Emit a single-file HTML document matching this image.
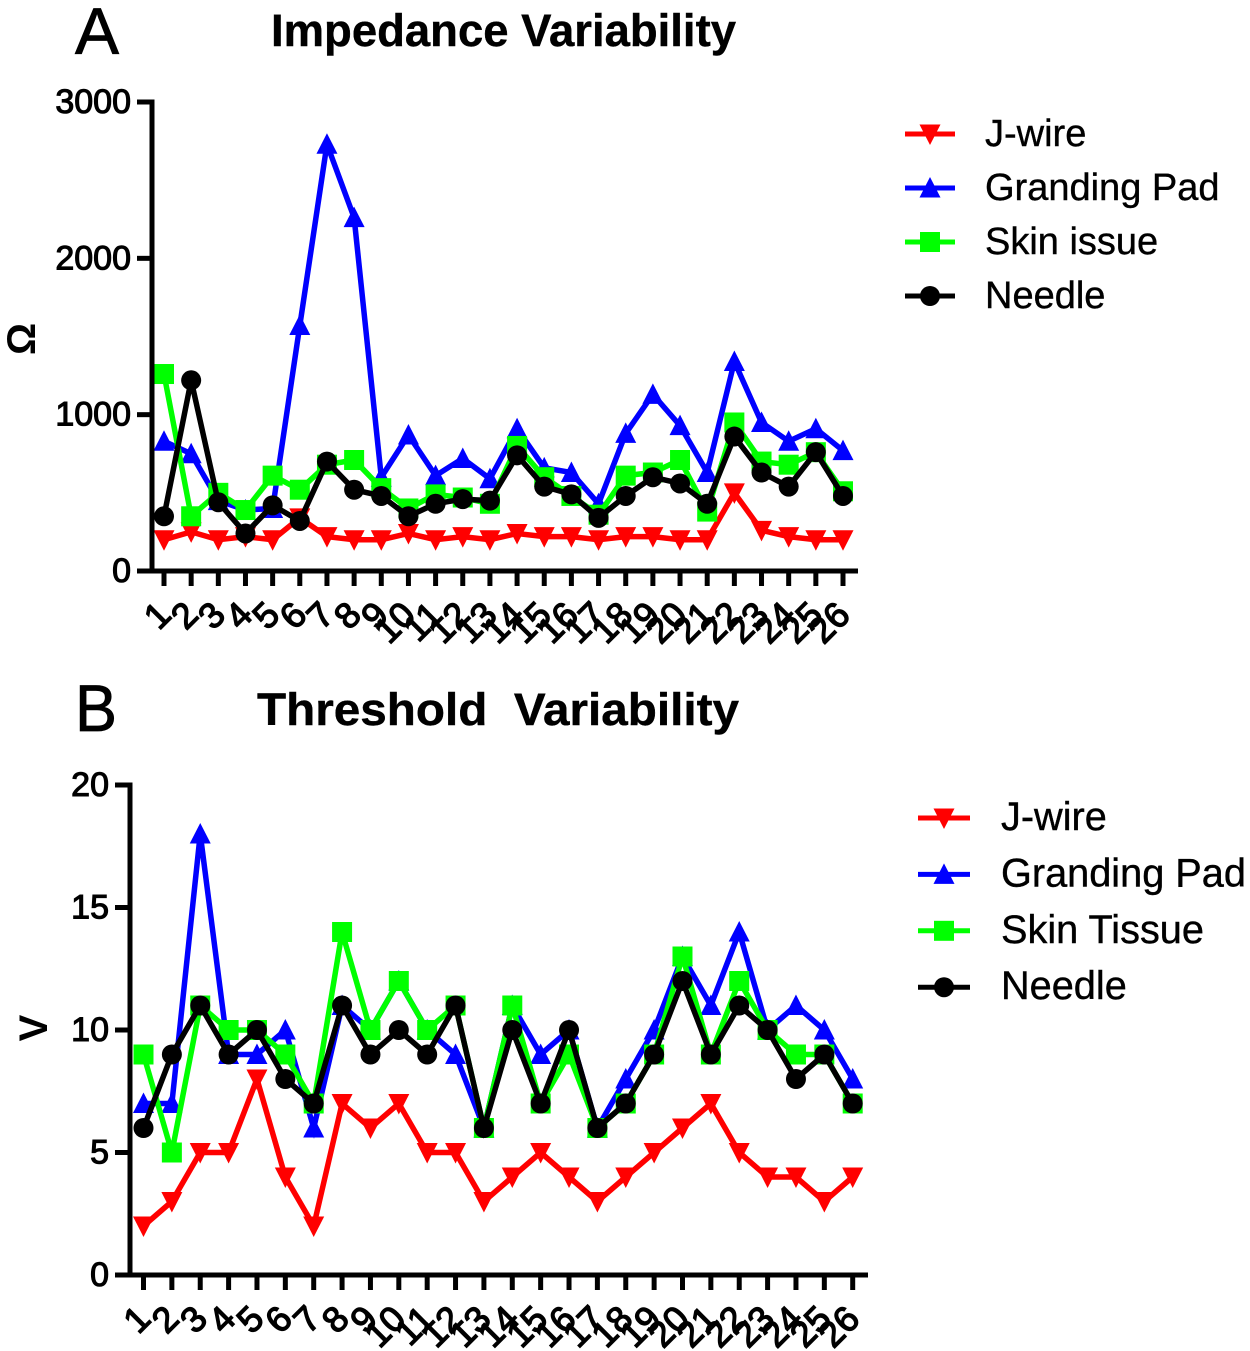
<!DOCTYPE html>
<html lang="en">
<head>
<meta charset="utf-8">
<title>Impedance and Threshold Variability</title>
<style>
html,body{margin:0;padding:0;background:#fff;width:1250px;height:1351px;overflow:hidden}
svg{display:block}
text{font-family:"Liberation Sans",sans-serif;fill:#000}
.panel{font-size:66px;stroke:#000;stroke-width:.8px}
.title{font-size:45px;font-weight:bold;stroke:#000;stroke-width:.4px}
.leg{font-size:38px;stroke:#000;stroke-width:.4px}
.legb{font-size:39.7px;stroke:#000;stroke-width:.4px}
.tick{font-size:34px;stroke:#000;stroke-width:1.1px}
.xtick{font-size:36px;stroke:#000;stroke-width:1.3px}
.axt{font-size:40px;font-weight:bold}
</style>
</head>
<body>
<svg id="figure" xmlns="http://www.w3.org/2000/svg" width="1250" height="1351" viewBox="0 0 1250 1351">
<rect width="1250" height="1351" fill="#fff"/>
<text class="panel" x="75" y="54" textLength="44" lengthAdjust="spacingAndGlyphs">A</text>
<text class="title" x="271" y="46" textLength="465" lengthAdjust="spacingAndGlyphs">Impedance Variability</text>
<text class="axt" transform="translate(35,339) rotate(-90)" text-anchor="middle">Ω</text>
<text class="panel" x="75" y="731" textLength="42" lengthAdjust="spacingAndGlyphs">B</text>
<text class="title" x="257" y="725" textLength="482" lengthAdjust="spacingAndGlyphs" xml:space="preserve">Threshold  Variability</text>
<text class="axt" transform="translate(47,1028) rotate(-90)" text-anchor="middle">V</text>
<g id="chart-a"></g>
<g id="chart-b"></g>
<g id="legend-a"></g>
<g id="legend-b"></g>
</svg>
<script>
const categories = ['1','2','3','4','5','6','7','8','9','10','11','12','13','14','15','16','17','18','19','20','21','22','23','24','25','26'];

const impedanceTicks = [0, 1000, 2000, 3000];
const impedanceJWire = [200,250,200,220,200,340,220,200,200,240,200,220,200,240,220,220,200,220,220,200,200,500,260,220,200,200];
const impedanceGrandingPad = [830,750,450,390,400,1570,2730,2260,600,870,610,720,590,910,660,630,430,880,1130,930,630,1340,950,830,910,770];
const impedanceSkin = [1260,350,500,390,610,520,680,710,530,400,490,470,430,800,600,480,360,610,630,710,380,950,700,680,760,510];
const impedanceNeedle = [350,1220,440,240,420,320,700,520,480,350,430,460,450,740,540,490,340,480,600,560,430,860,630,540,760,480];

const thresholdTicks = [0, 5, 10, 15, 20];
const thresholdJWire = [2,3,5,5,8,4,2,7,6,7,5,5,3,4,5,4,3,4,5,6,7,5,4,4,3,4];
const thresholdGrandingPad = [7,7,18,9,9,10,6,11,10,12,10,9,6,11,9,10,6,8,10,13,11,14,10,11,10,8];
const thresholdSkin = [9,5,11,10,10,9,7,14,10,12,10,11,6,11,7,9,6,7,9,13,9,12,10,9,9,7];
const thresholdNeedle = [6,9,11,9,10,8,7,11,9,10,9,11,6,10,7,10,6,7,9,12,9,11,10,8,9,7];

const legendANames = ['J-wire','Granding Pad','Skin issue','Needle'];
const legendBNames = ['J-wire','Granding Pad','Skin Tissue','Needle'];

const NS = 'http://www.w3.org/2000/svg';
const RED = '#ff0000', BLUE = '#0000ff', GREEN = '#00ff00', BLACK = '#000000';

function make(tag, attrs, parent) {
  const el = document.createElementNS(NS, tag);
  for (const k in attrs) el.setAttribute(k, attrs[k]);
  parent.appendChild(el);
  return el;
}

function drawMarker(kind, cx, cy, color, parent) {
  let el;
  if (kind === 'down') {
    el = make('polygon', {points: (cx-10.5)+','+(cy-9.5)+' '+(cx+10.5)+','+(cy-9.5)+' '+cx+','+(cy+11), fill: color}, parent);
  } else if (kind === 'up') {
    el = make('polygon', {points: (cx-10.5)+','+(cy+9.5)+' '+(cx+10.5)+','+(cy+9.5)+' '+cx+','+(cy-11), fill: color}, parent);
  } else if (kind === 'square') {
    el = make('rect', {x: cx-10, y: cy-10, width: 20, height: 20, fill: color}, parent);
  } else {
    el = make('circle', {cx: cx, cy: cy, r: 10, fill: color}, parent);
  }
  
  
}

function drawChart(parent, cfg, ticks, series) {
  const xPos = i => cfg.x1 + i * (cfg.xN - cfg.x1) / (categories.length - 1);
  const yPos = v => cfg.y0 + (cfg.yTop - cfg.y0) * v / ticks[ticks.length - 1];

  series.forEach(s => {
    const g = make('g', {}, parent);
    
    
    s.values.forEach((v, i) => drawMarker(s.marker, xPos(i), yPos(v), s.color, g));
    const pts = s.values.map((v, i) => xPos(i) + ',' + yPos(v)).join(' ');
    const line = make('polyline', {points: pts, fill: 'none', stroke: s.color, 'stroke-width': 5.5, 'stroke-linejoin': 'miter'}, g);
    
    
  });

  const yAxis = make('line', {x1: cfg.axisX, x2: cfg.axisX, y1: cfg.yTop - 2.5, y2: cfg.y0 + 2.5, stroke: '#000', 'stroke-width': 5}, parent);
  
  
  const xAxis = make('line', {x1: cfg.axisX - 14, x2: cfg.axisEnd, y1: cfg.y0, y2: cfg.y0, stroke: '#000', 'stroke-width': 5}, parent);
  
  

  ticks.forEach(t => {
    const y = yPos(t);
    const tk = make('line', {x1: cfg.axisX - 15, x2: cfg.axisX, y1: y, y2: y, stroke: '#000', 'stroke-width': 5}, parent);
    
    
    const lb = make('text', {x: cfg.axisX - 21, y: y + 11, 'text-anchor': 'end', class: 'tick'}, parent);
    lb.textContent = String(t);
    
    
  });

  categories.forEach((c, i) => {
    const x = xPos(i);
    const tk = make('line', {x1: x, x2: x, y1: cfg.y0, y2: cfg.y0 + 15, stroke: '#000', 'stroke-width': 5}, parent);
    
    
    const ax = x + 9, ay = cfg.y0 + 46;
    const lb = make('text', {x: ax, y: ay, 'text-anchor': 'end', class: 'xtick', transform: 'rotate(-45 ' + ax + ' ' + ay + ')'}, parent);
    lb.textContent = c;
    
    
  });
}

function drawLegend(parent, cfg, names, series) {
  names.forEach((n, i) => {
    const y = cfg.y + i * cfg.gap;
    const g = make('g', {}, parent);
    
    
    make('line', {x1: cfg.x1, x2: cfg.x2, y1: y, y2: y, stroke: series[i].color, 'stroke-width': 5}, g);
    drawMarker(series[i].marker, (cfg.x1 + cfg.x2) / 2, y, series[i].color, g);
    const t = make('text', {x: cfg.tx, y: y + 12, class: cfg.cls}, g);
    t.textContent = n;
    
    
  });
}

const seriesA = [
  {name: 'j-wire', values: impedanceJWire, color: RED, marker: 'down'},
  {name: 'granding-pad', values: impedanceGrandingPad, color: BLUE, marker: 'up'},
  {name: 'skin-issue', values: impedanceSkin, color: GREEN, marker: 'square'},
  {name: 'needle', values: impedanceNeedle, color: BLACK, marker: 'circle'}
];
const seriesB = [
  {name: 'j-wire', values: thresholdJWire, color: RED, marker: 'down'},
  {name: 'granding-pad', values: thresholdGrandingPad, color: BLUE, marker: 'up'},
  {name: 'skin-tissue', values: thresholdSkin, color: GREEN, marker: 'square'},
  {name: 'needle', values: thresholdNeedle, color: BLACK, marker: 'circle'}
];

drawChart(document.getElementById('chart-a'), {x1: 164, xN: 843, y0: 571, yTop: 102, axisX: 152, axisEnd: 858}, impedanceTicks, seriesA);
drawChart(document.getElementById('chart-b'), {x1: 143.5, xN: 852.7, y0: 1275, yTop: 785, axisX: 130, axisEnd: 868}, thresholdTicks, seriesB);
drawLegend(document.getElementById('legend-a'), {x1: 905, x2: 955, y: 134, gap: 54, tx: 985, cls: 'leg'}, legendANames, seriesA);
drawLegend(document.getElementById('legend-b'), {x1: 918, x2: 970, y: 818, gap: 56.4, tx: 1001, cls: 'legb'}, legendBNames, seriesB);
</script>
</body>
</html>
